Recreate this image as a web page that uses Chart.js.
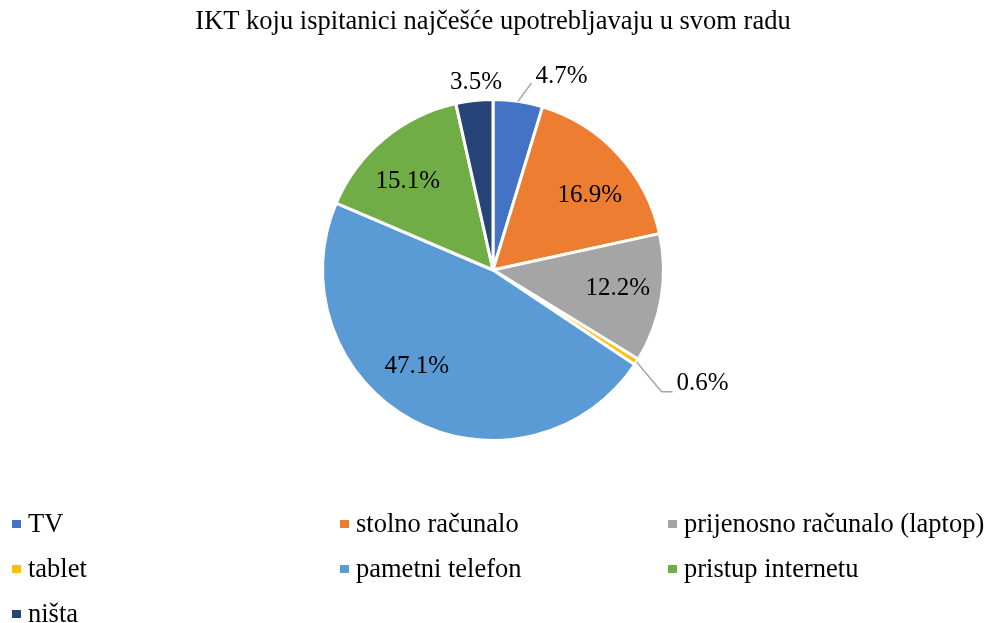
<!DOCTYPE html>
<html>
<head>
<meta charset="utf-8">
<script src="https://cdn.jsdelivr.net/npm/chart.js@4.4.1/dist/chart.umd.min.js"></script>
<style>
  html, body { margin: 0; padding: 0; background: #fff; }
  #wrap { width: 989px; height: 623px; }
</style>
</head>
<body>
<div id="wrap"><canvas id="myChart" width="989" height="623"></canvas></div>
<script>
const labels = ['TV', 'stolno računalo', 'prijenosno računalo (laptop)', 'tablet', 'pametni telefon', 'pristup internetu', 'ništa'];
const values = [4.7, 16.9, 12.2, 0.6, 47.1, 15.1, 3.5];
const colors = ['#4472C4', '#ED7D31', '#A5A5A5', '#FFC000', '#5B9BD5', '#70AD47', '#264478'];

const serif = '"Liberation Serif", "Times New Roman", serif';

// label placement per slice: radius factor and small angle nudge (radians)
const placement = [
  { type: 'leader', k: 1.12, shift: 0.055 },
  { type: 'in', k: 0.717, shift: 0.087 },
  { type: 'in', k: 0.74, shift: -0.022 },
  { type: 'elbow', k: 1.22, shift: 0.056 },
  { type: 'in', k: 0.72, shift: 0.173 },
  { type: 'in', k: 0.72, shift: -0.075 },
  { type: 'in', k: 1.105, shift: 0.02 }
];

const sliceLabels = {
  id: 'sliceLabels',
  afterDatasetsDraw(chart) {
    const ctx = chart.ctx;
    const meta = chart.getDatasetMeta(0);
    ctx.save();
    ctx.font = '25px ' + serif;
    ctx.fillStyle = '#000';
    ctx.textBaseline = 'middle';
    ctx.strokeStyle = '#A6A6A6';
    ctx.lineWidth = 1.5;
    meta.data.forEach((arc, i) => {
      const p = arc.getProps(['x', 'y', 'startAngle', 'endAngle', 'outerRadius'], true);
      const mid = (p.startAngle + p.endAngle) / 2;
      const r = p.outerRadius;
      const at = (k, a) => [p.x + Math.cos(a) * r * k, p.y + Math.sin(a) * r * k];
      const text = values[i].toFixed(1) + '%';
      const pl = placement[i];
      const [ex, ey] = at(pl.k, mid + pl.shift);
      if (pl.type === 'in') {
        ctx.textAlign = 'center';
        ctx.fillText(text, ex, ey);
      } else {
        const [sx, sy] = at(1.0, mid);
        ctx.beginPath();
        ctx.moveTo(sx, sy);
        ctx.lineTo(ex, ey);
        if (pl.type === 'elbow') {
          ctx.lineTo(ex + 11, ey);
        }
        ctx.stroke();
        ctx.textAlign = 'left';
        if (pl.type === 'elbow') {
          ctx.fillText(text, ex + 15, ey - 8);
        } else {
          ctx.fillText(text, ex + 4, ey - 6.5);
        }
      }
    });
    ctx.restore();
  }
};

const gridLegend = {
  id: 'gridLegend',
  afterDraw(chart) {
    const ctx = chart.ctx;
    const colW = 328;
    ctx.save();
    ctx.font = '26.5px ' + serif;
    ctx.textBaseline = 'alphabetic';
    ctx.textAlign = 'left';
    labels.forEach((lab, i) => {
      const col = i % 3;
      const row = Math.floor(i / 3);
      const x = 12 + col * colW;
      const base = 532 + row * 45;
      ctx.fillStyle = colors[i];
      ctx.fillRect(x, base - 12, 9, 8);
      ctx.fillStyle = '#000';
      ctx.fillText(lab, x + 16, base);
    });
    ctx.restore();
  }
};

const data = {
  labels: labels,
  datasets: [{
    data: values,
    backgroundColor: colors,
    borderColor: '#fff',
    borderWidth: 3,
    hoverOffset: 0
  }]
};

const config = {
  type: 'pie',
  data: data,
  options: {
    responsive: false,
    animation: false,
    layout: { padding: { top: 0, left: 0, right: 3, bottom: 181 } },
    plugins: {
      legend: { display: false },
      tooltip: { enabled: false },
      title: {
        display: true,
        text: 'IKT koju ispitanici najčešće upotrebljavaju u svom radu',
        color: '#000',
        font: { family: serif, size: 26.5, weight: 'normal' },
        padding: { top: 6.6, bottom: 59.6 }
      }
    }
  },
  plugins: [sliceLabels, gridLegend]
};

const myChart = new Chart(document.getElementById('myChart'), config);
</script>
</body>
</html>
